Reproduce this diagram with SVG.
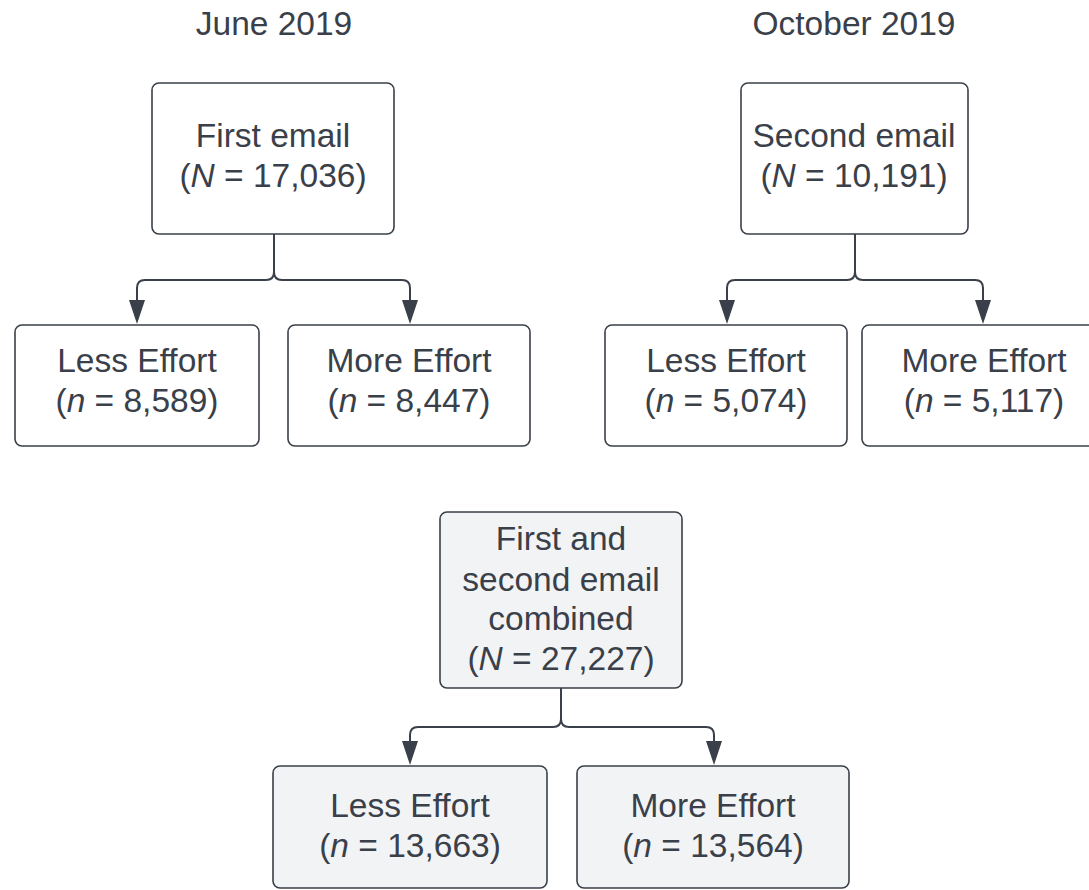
<svg xmlns="http://www.w3.org/2000/svg" width="1089" height="890" viewBox="0 0 1089 890">
<style>
  text { font-family: "Liberation Sans", Arial, sans-serif; font-size: 33.5px; fill: #3a4049; text-anchor: middle; }
  .box { fill: #ffffff; stroke: #3a4049; stroke-width: 1.6; }
  .gbox { fill: #f2f3f5; stroke: #3a4049; stroke-width: 1.6; }
  .conn { fill: none; stroke: #3a4049; stroke-width: 2; }
  .head { fill: #3a4049; stroke: none; }
  .i { font-style: italic; }
</style>
<defs>
  <path id="ah" d="M-8,-24 L8,-24 L0,0 Z"/>
</defs>
<rect width="1089" height="890" fill="#ffffff"/>

<g id="title-june"><text x="274" y="35">June 2019</text></g>
<g id="title-october"><text x="854" y="35">October 2019</text></g>

<g id="connectors">
  <path class="conn" d="M274,234 V272 Q274,280 266,280 H145 Q137,280 137,288 V302"/>
  <path class="conn" d="M274,234 V272 Q274,280 282,280 H402 Q410,280 410,288 V302"/>
  <path class="conn" d="M855,234 V272 Q855,280 847,280 H735 Q727,280 727,288 V302"/>
  <path class="conn" d="M855,234 V272 Q855,280 863,280 H975 Q983,280 983,288 V302"/>
  <path class="conn" d="M561,688 V719 Q561,727 553,727 H418 Q410,727 410,735 V743"/>
  <path class="conn" d="M561,688 V719 Q561,727 569,727 H706 Q714,727 714,735 V743"/>
  <use href="#ah" class="head" x="137" y="324"/>
  <use href="#ah" class="head" x="410" y="324"/>
  <use href="#ah" class="head" x="727" y="324"/>
  <use href="#ah" class="head" x="983" y="324"/>
  <use href="#ah" class="head" x="410" y="765"/>
  <use href="#ah" class="head" x="714" y="765"/>
</g>

<g id="first-email">
  <rect class="box" x="152" y="83" width="242" height="151" rx="7"/>
  <text x="273" y="147">First email</text>
  <text x="273" y="187">(<tspan class="i">N</tspan> = 17,036)</text>
</g>
<g id="first-less">
  <rect class="box" x="15" y="325" width="244" height="121" rx="7"/>
  <text x="137" y="372">Less Effort</text>
  <text x="137" y="412">(<tspan class="i">n</tspan> = 8,589)</text>
</g>
<g id="first-more">
  <rect class="box" x="288" y="325" width="242" height="121" rx="7"/>
  <text x="409" y="372">More Effort</text>
  <text x="409" y="412">(<tspan class="i">n</tspan> = 8,447)</text>
</g>

<g id="second-email">
  <rect class="box" x="741" y="83" width="227" height="151" rx="7"/>
  <text x="854" y="147">Second email</text>
  <text x="854" y="187">(<tspan class="i">N</tspan> = 10,191)</text>
</g>
<g id="second-less">
  <rect class="box" x="605" y="325" width="242" height="121" rx="7"/>
  <text x="726" y="372">Less Effort</text>
  <text x="726" y="412">(<tspan class="i">n</tspan> = 5,074)</text>
</g>
<g id="second-more">
  <rect class="box" x="862" y="325" width="243" height="121" rx="7"/>
  <text x="984" y="372">More Effort</text>
  <text x="984" y="412">(<tspan class="i">n</tspan> = 5,117)</text>
</g>

<g id="combined">
  <rect class="gbox" x="440" y="512" width="242" height="176" rx="7"/>
  <text x="561" y="550">First and</text>
  <text x="561" y="591">second email</text>
  <text x="561" y="630">combined</text>
  <text x="561" y="670">(<tspan class="i">N</tspan> = 27,227)</text>
</g>
<g id="combined-less">
  <rect class="gbox" x="273" y="766" width="274" height="122" rx="7"/>
  <text x="410" y="817">Less Effort</text>
  <text x="410" y="857">(<tspan class="i">n</tspan> = 13,663)</text>
</g>
<g id="combined-more">
  <rect class="gbox" x="577" y="766" width="272" height="122" rx="7"/>
  <text x="713" y="817">More Effort</text>
  <text x="713" y="857">(<tspan class="i">n</tspan> = 13,564)</text>
</g>
</svg>
